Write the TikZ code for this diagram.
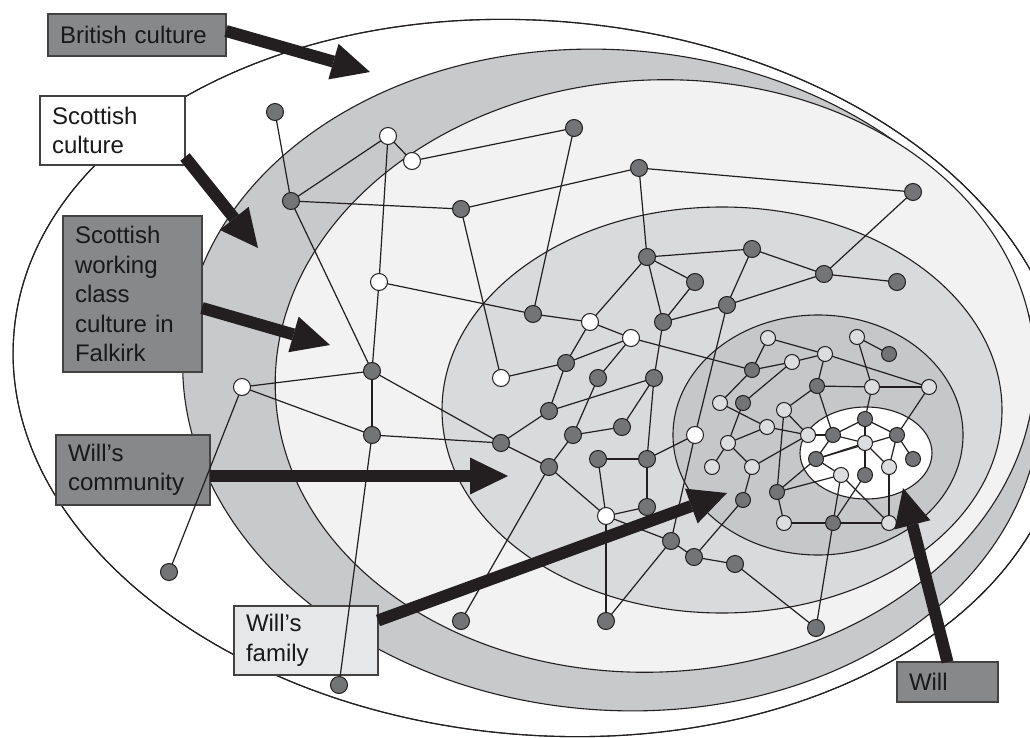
\documentclass[tikz,border=0pt]{standalone}
\usepackage{fontspec}
\newfontfamily\labelfont{Liberation Sans}
\usetikzlibrary{arrows.meta}
\definecolor{ringgray}{HTML}{C8C9CB}
\definecolor{lightzone}{HTML}{F2F2F2}
\definecolor{commzone}{HTML}{D9DADB}
\definecolor{famzone}{HTML}{C6C7C9}
\definecolor{nodedark}{HTML}{737476}
\definecolor{nodelight}{HTML}{DCDDDE}
\definecolor{boxdark}{HTML}{87888A}
\definecolor{boxlight}{HTML}{E6E7E8}
\definecolor{inkcol}{HTML}{231F20}
\pgfdeclarelayer{zones}
\pgfdeclarelayer{ties}
\pgfsetlayers{zones,ties,main}
\begin{document}
\begin{tikzpicture}[x=1pt,y=-1pt,
  zone/.style={draw=inkcol, line width=1.1pt},
  edge/.style={draw=inkcol, line width=1.2pt},
  dn/.style={circle, draw=inkcol, line width=1pt, fill=nodedark, minimum size=17pt, inner sep=0pt, outer sep=0pt},
  wn/.style={dn, fill=white},
  ln/.style={dn, fill=nodelight},
  sm/.style={minimum size=15pt},
  box/.style={draw=inkcol!85, line width=1.2pt, anchor=north west, inner xsep=12pt, inner ysep=0pt,
    outer sep=0pt, align=left, text=black!90, font=\labelfont\fontsize{24pt}{29.5pt}\selectfont},
  bigarrow/.style={draw=inkcol, line width=12pt, -{Triangle[length=38pt,width=37pt,line width=0pt]}}
]
\useasboundingbox (0,0) rectangle (1030,738);

\begin{pgfonlayer}{zones}
% nested culture zones: Britain, Scotland, Falkirk, community, family, Will
\draw[zone, fill=white] (540,378) ellipse [x radius=528pt, y radius=357pt, rotate=-5];
\begin{scope}
  \clip (540,378) ellipse [x radius=528pt, y radius=357pt, rotate=-5];
  \draw[zone, fill=ringgray] (612,380) ellipse [x radius=430pt, y radius=330pt, rotate=-5];
\end{scope}
\draw[zone] (540,378) ellipse [x radius=528pt, y radius=357pt, rotate=-5];
\draw[zone, fill=lightzone] (655,376) ellipse [x radius=380pt, y radius=296pt, rotate=3];
\draw[zone, fill=commzone] (722,410) ellipse [x radius=280pt, y radius=203pt];
\draw[zone, fill=famzone] (818,435) ellipse [x radius=145pt, y radius=120pt];
\draw[zone, fill=white] (866,453) ellipse [x radius=66pt, y radius=46pt];

% label boxes
\node[box, fill=boxdark, minimum height=42pt, text width=154pt] (bc) at (48,14) {British culture};
\node[box, fill=white, minimum height=69pt, text width=121pt] (sc) at (40,96) {Scottish\\culture};
\node[box, fill=boxdark, minimum height=156pt, text width=115pt] (wc) at (63,216) {Scottish\\working\\class\\culture in\\Falkirk};
\node[box, fill=boxdark, minimum height=70pt, text width=130pt] (wcm) at (56,435) {Will’s\\community};
\node[box, fill=boxlight, minimum height=69pt, text width=120pt] (wf) at (234,606) {Will’s\\family};
\node[box, fill=boxdark, minimum height=40pt, text width=77pt] (will) at (897,662) {Will};
\end{pgfonlayer}

% wider social network
\node[dn] (n1) at (275,112) {};
\node[wn] (n2) at (388,136) {};
\node[wn] (n3) at (412,161) {};
\node[dn] (n4) at (291,201) {};
\node[dn] (n5) at (461,209) {};
\node[wn] (n6) at (379,282) {};
\node[dn] (n9) at (372,371) {};
\node[wn] (n8) at (242,387) {};
\node[dn] (n10) at (372,435) {};
\node[dn] (n11) at (501,443) {};
\node[dn] (n12) at (169,572) {};
\node[dn] (n13) at (339,685) {};
\node[dn] (n14) at (461,621) {};
\node[wn] (n15) at (501,378) {};
\node[dn] (n16) at (574,128) {};
\node[dn] (n17) at (639,168) {};
\node[dn] (n18) at (913,192) {};
\node[dn] (n19) at (647,257) {};
\node[dn] (n20) at (752,249) {};
\node[dn] (n21) at (695,282) {};
\node[dn] (n22) at (824,274) {};
\node[dn] (n23) at (897,282) {};
\node[dn] (n24) at (727,305) {};
\node[dn] (n25) at (663,322) {};
\node[dn] (n26) at (533,314) {};
\node[wn] (n27) at (590,322) {};
\node[wn] (n28) at (631,338) {};
\node[dn] (n29) at (566,363) {};
\node[dn] (n36) at (598,378) {};
\node[dn] (n37) at (654,378) {};
\node[dn] (n38) at (549,411) {};
\node[dn] (n39) at (573,435) {};
\node[dn] (n40) at (622,427) {};
\node[dn] (n41) at (549,467) {};
\node[dn] (n42) at (598,459) {};
\node[dn] (n43) at (647,459) {};
\node[wn] (n44) at (695,435) {};
\node[wn] (n49) at (606,516) {};
\node[dn] (n50) at (647,507) {};
\node[dn] (n51) at (671,541) {};
\node[dn] (n52) at (694,557) {};
\node[dn] (n53) at (735,564) {};
\node[dn] (n55) at (606,621) {};
\node[dn] (n56) at (816,628) {};

% family circle
\node[ln,sm] (n30) at (768,338) {};
\node[ln,sm] (n31) at (857,337) {};
\node[dn,sm] (n32) at (889,354) {};
\node[ln,sm] (n33) at (792,362) {};
\node[ln,sm] (n34) at (825,354) {};
\node[dn,sm] (n35) at (752,370) {};
\node[dn,sm] (n57) at (817,386) {};
\node[ln,sm] (n58) at (872,387) {};
\node[ln,sm] (n59) at (929,387) {};
\node[ln,sm] (n48) at (720,403) {};
\node[dn,sm] (n47) at (743,403) {};
\node[ln,sm] (n60) at (784,410) {};
\node[ln,sm] (n61) at (767,427) {};
\node[ln,sm] (n45) at (728,443) {};
\node[ln,sm] (n46) at (712,467) {};
\node[ln,sm] (n62) at (752,467) {};
\node[dn,sm] (n54) at (743,500) {};
\node[dn,sm] (n63) at (777,492) {};
\node[ln,sm] (n64) at (784,523) {};
\node[dn,sm] (n65) at (833,523) {};
\node[ln,sm] (n66) at (889,523) {};

% Will's own circle
\node[ln,sm] (n67) at (808,435) {};
\node[dn,sm] (n68) at (833,435) {};
\node[dn,sm] (n69) at (865,419) {};
\node[ln,sm] (n72) at (865,443) {};
\node[dn,sm] (n70) at (897,435) {};
\node[dn,sm] (n71) at (816,459) {};
\node[ln,sm] (n73) at (841,475) {};
\node[dn,sm] (n74) at (865,475) {};
\node[ln,sm] (n75) at (889,467) {};
\node[dn,sm] (n76) at (913,459) {};

% ties, kept under the nodes
\begin{pgfonlayer}{ties}
\foreach \a/\b in {n1/n4, n4/n2, n2/n3, n2/n6, n4/n5, n4/n9, n6/n9, n6/n26, n5/n15, n5/n17,
  n3/n16, n8/n9, n8/n10, n8/n12, n9/n10, n9/n11, n10/n11, n10/n13, n14/n41,
  n16/n26, n26/n27, n27/n28, n27/n29, n28/n29, n28/n36, n28/n35, n29/n15, n29/n38,
  n17/n19, n17/n18, n18/n22, n19/n20, n19/n21, n19/n25, n19/n27, n21/n25, n25/n24,
  n24/n20, n24/n22, n20/n22, n22/n23, n24/n44, n25/n37,
  n36/n39, n37/n38, n37/n40, n37/n43, n38/n11, n39/n40, n39/n41, n41/n11, n41/n49,
  n42/n43, n42/n49, n43/n50, n43/n44, n49/n50, n49/n55, n49/n51, n55/n51, n51/n52,
  n52/n53, n51/n44, n52/n54, n53/n56, n56/n65,
  n30/n34, n30/n35, n35/n33, n33/n34, n34/n59, n34/n57, n57/n58, n58/n59, n31/n32,
  n31/n58, n58/n69, n59/n70, n35/n48, n48/n61, n47/n45, n47/n33, n45/n61, n45/n46,
  n45/n62, n62/n67, n62/n54, n60/n57, n60/n63, n60/n67, n61/n67, n63/n64, n63/n71,
  n63/n73, n64/n65, n65/n66, n65/n73, n65/n74, n66/n75, n66/n73,
  n67/n68, n68/n69, n69/n70, n69/n72, n68/n72, n71/n72, n71/n70, n68/n71, n68/n57,
  n71/n73, n72/n74, n72/n75, n70/n75, n70/n76}
  \draw[edge] (\a.center) -- (\b.center);
\end{pgfonlayer}

% pointers from the labels
\coordinate (tbc) at (370,72);
\coordinate (tsc) at (258,248);
\coordinate (twc) at (330,345);
\coordinate (twcm) at (508,476);
\coordinate (twf) at (727,493);
\coordinate (twill) at (903,488);
\draw[bigarrow] ([yshift=4pt]bc.east) -- (tbc);
\draw[bigarrow] ([yshift=8pt]sc.south east) -- (tsc);
\draw[bigarrow] ([yshift=-14pt]wc.east) -- (twc);
\draw[bigarrow] ([yshift=-6pt]wcm.east) -- (twcm);
\draw[bigarrow] ([yshift=20pt]wf.east) -- (twf);
\draw[bigarrow] (will.north) -- (twill);
\end{tikzpicture}
\end{document}
